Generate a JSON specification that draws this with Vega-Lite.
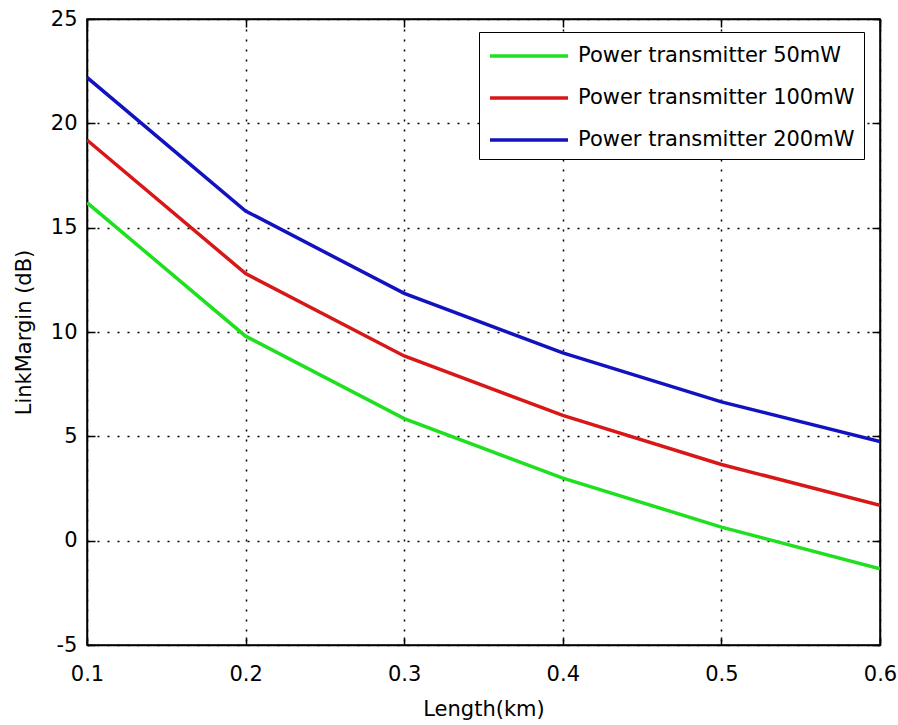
{
  "$schema": "https://vega.github.io/schema/vega-lite/v6.json",
  "autosize": {"type": "none"},
  "width": 793,
  "height": 626,
  "padding": {"left": 87, "top": 19, "right": 18, "bottom": 80},
  "background": "white",
  "config": {
    "font": "DejaVu Sans",
    "view": {"stroke": "black", "strokeWidth": 1.5},
    "axis": {
      "domainColor": "black",
      "domainWidth": 1.5,
      "tickColor": "black",
      "tickWidth": 1.5,
      "tickSize": -8,
      "labelColor": "black",
      "labelFont": "DejaVu Sans",
      "labelFontSize": 21,
      "titleColor": "black",
      "titleFont": "DejaVu Sans",
      "titleFontSize": 21,
      "titleFontWeight": "normal",
      "gridColor": "black",
      "gridDash": [2, 8],
      "gridWidth": 1.5,
      "gridOpacity": 1
    }
  },
  "data": {
    "values": [
      {"length": 0.1, "margin": 16.2, "tx": "Power transmitter 50mW"},
      {"length": 0.2, "margin": 9.8, "tx": "Power transmitter 50mW"},
      {"length": 0.3, "margin": 5.85, "tx": "Power transmitter 50mW"},
      {"length": 0.4, "margin": 3.0, "tx": "Power transmitter 50mW"},
      {"length": 0.5, "margin": 0.65, "tx": "Power transmitter 50mW"},
      {"length": 0.6, "margin": -1.35, "tx": "Power transmitter 50mW"},
      {"length": 0.1, "margin": 19.2, "tx": "Power transmitter 100mW"},
      {"length": 0.2, "margin": 12.8, "tx": "Power transmitter 100mW"},
      {"length": 0.3, "margin": 8.85, "tx": "Power transmitter 100mW"},
      {"length": 0.4, "margin": 6.0, "tx": "Power transmitter 100mW"},
      {"length": 0.5, "margin": 3.65, "tx": "Power transmitter 100mW"},
      {"length": 0.6, "margin": 1.7, "tx": "Power transmitter 100mW"},
      {"length": 0.1, "margin": 22.2, "tx": "Power transmitter 200mW"},
      {"length": 0.2, "margin": 15.8, "tx": "Power transmitter 200mW"},
      {"length": 0.3, "margin": 11.85, "tx": "Power transmitter 200mW"},
      {"length": 0.4, "margin": 9.0, "tx": "Power transmitter 200mW"},
      {"length": 0.5, "margin": 6.65, "tx": "Power transmitter 200mW"},
      {"length": 0.6, "margin": 4.75, "tx": "Power transmitter 200mW"}
    ]
  },
  "resolve": {"axis": {"x": "independent", "y": "independent"}},
  "layer": [
    {
      "mark": {"type": "line", "strokeWidth": 3.5, "clip": true},
      "encoding": {
        "x": {
          "field": "length",
          "type": "quantitative",
          "scale": {"domain": [0.1, 0.6], "nice": false, "zero": false},
          "axis": {
            "orient": "bottom",
            "title": "Length(km)",
            "values": [0.1, 0.2, 0.3, 0.4, 0.5, 0.6],
            "format": ".1f",
            "labelPadding": 26,
            "titlePadding": 14,
            "grid": true,
            "labelFlush": false
          }
        },
        "y": {
          "field": "margin",
          "type": "quantitative",
          "scale": {"domain": [-5, 25], "nice": false, "zero": false},
          "axis": {
            "orient": "left",
            "title": "LinkMargin (dB)",
            "values": [-5, 0, 5, 10, 15, 20, 25],
            "labelExpr": "datum.value < 0 ? '-' + abs(datum.value) : '' + datum.value",
            "labelPadding": 18,
            "titlePadding": 16,
            "grid": true
          }
        },
        "color": {
          "field": "tx",
          "type": "nominal",
          "scale": {
            "domain": ["Power transmitter 50mW", "Power transmitter 100mW", "Power transmitter 200mW"],
            "range": ["#1ee01e", "#d81818", "#1212c0"]
          },
          "legend": {
            "orient": "none",
            "legendX": 392,
            "legendY": 13,
            "title": null,
            "symbolType": "M-1,0H5",
            "symbolSize": 676,
            "symbolStrokeWidth": 3.5,
            "labelFontSize": 21,
            "labelFont": "DejaVu Sans",
            "labelColor": "black",
            "labelLimit": 400,
            "labelOffset": 60,
            "rowPadding": 17,
            "padding": 9,
            "strokeColor": "black",
            "fillColor": "white"
          }
        }
      }
    },
    {
      "mark": {"type": "line", "opacity": 0},
      "encoding": {
        "x": {
          "field": "length",
          "type": "quantitative",
          "axis": {
            "orient": "top",
            "title": null,
            "values": [0.1, 0.2, 0.3, 0.4, 0.5, 0.6],
            "labels": false,
            "grid": false
          }
        },
        "y": {
          "field": "margin",
          "type": "quantitative",
          "axis": {
            "orient": "right",
            "title": null,
            "values": [-5, 0, 5, 10, 15, 20, 25],
            "labels": false,
            "grid": false
          }
        }
      }
    }
  ]
}
